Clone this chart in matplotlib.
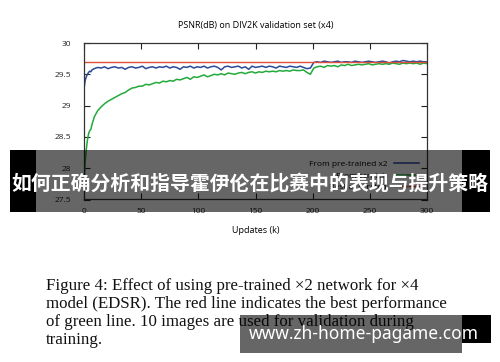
import matplotlib
matplotlib.use("Agg")
import matplotlib.pyplot as plt
from matplotlib.patches import Rectangle

# x grid (k updates)
updates = list(range(0, 9)) + list(range(9, 301, 3))

pretrained = [
    29.27, 29.40, 29.46, 29.50, 29.53, 29.55, 29.54, 29.57, 29.58,
    29.59, 29.61, 29.60, 29.62, 29.59, 29.61, 29.62, 29.60, 29.61, 29.58,
    29.61, 29.62, 29.60, 29.61, 29.63, 29.59, 29.61, 29.62, 29.60, 29.62,
    29.61, 29.63, 29.60, 29.62, 29.61, 29.58, 29.62, 29.61, 29.63, 29.60,
    29.62, 29.61, 29.63, 29.60, 29.62, 29.63, 29.61, 29.57, 29.62, 29.63,
    29.61, 29.62, 29.63, 29.60, 29.62, 29.58, 29.63, 29.61, 29.62, 29.63,
    29.61, 29.63, 29.62, 29.60, 29.63, 29.62, 29.61, 29.63, 29.62, 29.61,
    29.63, 29.61, 29.59, 29.60,
    29.69, 29.70, 29.69, 29.71, 29.70, 29.69, 29.70, 29.71, 29.69, 29.70,
    29.70, 29.69, 29.71, 29.70, 29.69, 29.70, 29.71, 29.70, 29.69, 29.70,
    29.71, 29.70, 29.68, 29.70, 29.71, 29.70, 29.72, 29.71, 29.70, 29.71,
    29.70, 29.71, 29.70, 29.70,
]

scratch = [
    27.70, 28.10, 28.30, 28.45, 28.55, 28.60, 28.62, 28.70, 28.76,
    28.82, 28.92, 28.98, 29.03, 29.07, 29.10, 29.13, 29.16, 29.19, 29.21,
    29.25, 29.28, 29.29, 29.31, 29.31, 29.34, 29.33, 29.35, 29.37, 29.36,
    29.39, 29.38, 29.40, 29.39, 29.42, 29.41, 29.43, 29.45, 29.42, 29.46,
    29.45, 29.47, 29.49, 29.46, 29.48, 29.50, 29.49, 29.51, 29.49, 29.52,
    29.51, 29.50, 29.52, 29.53, 29.51, 29.53, 29.54, 29.52, 29.54, 29.53,
    29.55, 29.54, 29.55, 29.54, 29.56, 29.55, 29.56, 29.55, 29.57, 29.56,
    29.56, 29.57, 29.53, 29.50,
    29.60, 29.62, 29.63, 29.61, 29.64, 29.63, 29.64, 29.62, 29.65, 29.64,
    29.66, 29.64, 29.65, 29.66, 29.65, 29.66, 29.67, 29.65, 29.66, 29.67,
    29.66, 29.67, 29.66, 29.68, 29.67, 29.66, 29.68, 29.67, 29.68, 29.67,
    29.68, 29.66, 29.68, 29.67,
]

best_scratch = 29.69

xticks = [0, 50, 100, 150, 200, 250, 300]
yticks = [27.5, 28, 28.5, 29, 29.5, 30]
ytick_labels = ["27.5", "28", "28.5", "29", "29.5", "30"]

caption = ("Figure 4: Effect of using pre-trained \u00d72 network for \u00d74\n"
           "model (EDSR). The red line indicates the best performance\n"
           "of green line. 10 images are used for validation during\n"
           "training.")
banner = "如何正确分析和指导霍伊伦在比赛中的表现与提升策略"
watermark = "www.zh-home-pagame.com"

W, H = 500, 362
fig = plt.figure(figsize=(W / 100, H / 100), dpi=100)
fig.patch.set_facecolor("white")

ax = fig.add_axes([84 / W, 1 - 199.5 / H, (427 - 84) / W, (199.5 - 43) / H])
ax.plot(updates, pretrained, color="#2a4a9c", lw=1.1, label="From pre-trained x2")
ax.plot(updates, scratch, color="#22aa3a", lw=1.1, label="From scratch")
ax.axhline(best_scratch, color="#e0503a", lw=1.0, label="Best of scratch")
ax.set_xlim(0, 300)
ax.set_ylim(27.5, 30)
ax.set_xticks(xticks)
ax.set_yticks(yticks)
ax.set_yticklabels(ytick_labels)
ax.tick_params(direction="in", top=True, right=True, length=4, width=0.8,
               labelsize=6, colors="#222222")
ax.tick_params(axis="y", pad=9)
ax.tick_params(axis="x", pad=6)
for s in ax.spines.values():
    s.set_linewidth(0.9)
    s.set_color("#333333")
for lab in ax.get_xticklabels() + ax.get_yticklabels():
    lab.set_family("Open Sans")
ax.set_xlabel("Updates (k)", fontsize=6.5, family="Open Sans", labelpad=8)
ax.set_title("PSNR(dB) on DIV2K validation set (x4)", fontsize=6.5,
             family="Open Sans", pad=11)
ax.legend(loc="lower right", frameon=False, markerfirst=False,
          prop={"family": "Open Sans", "size": 6}, handlelength=3,
          borderaxespad=0.6, labelspacing=0.45)

fig.text(46 / W, 1 - 278 / H, caption, fontsize=12.2, family="Liberation Serif",
         va="top", ha="left", linespacing=1.18, color="#111111")

# overlays
def box(x0, y0, x1, y1, color, alpha=1.0):
    fig.patches.append(Rectangle((x0 / W, 1 - y1 / H), (x1 - x0) / W, (y1 - y0) / H,
                                 transform=fig.transFigure, facecolor=color,
                                 alpha=alpha, edgecolor="none", zorder=5))

box(10, 150, 36, 212, "black")
box(462, 150, 490, 212, "black")
box(36, 150, 462, 212, "black", 0.6)
fig.text(250 / W, 1 - 183 / H, banner, fontsize=14.3, fontweight="bold", color="white",
         family=["Noto Sans CJK SC", "DejaVu Sans"], ha="center", va="center", zorder=6)

box(240, 315, 462, 353, "black", 0.6)
box(462, 315, 491, 343, "black")
fig.text(364 / W, 1 - 334 / H, watermark, fontsize=12.5, fontweight="bold", color="white",
         family="Noto Sans", ha="center", va="center", zorder=6)

fig.savefig("out.png", dpi=100)
